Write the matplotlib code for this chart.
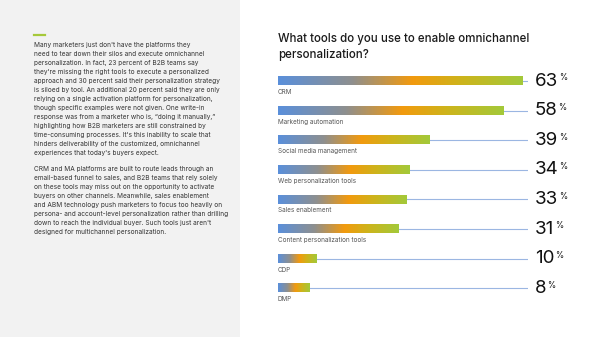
import matplotlib.pyplot as plt
import numpy as np
from matplotlib.colors import LinearSegmentedColormap

plt.rcParams['font.family'] = ['Inter', 'DejaVu Sans']

tools = ["CRM", "Marketing automation", "Social media management",
         "Web personalization tools", "Sales enablement",
         "Content personalization tools", "CDP", "DMP"]
shares = [63, 58, 39, 34, 33, 31, 10, 8]

title = "What tools do you use to enable omnichannel\npersonalization?"

para1 = ("Many marketers just don't have the platforms they\n"
         "need to tear down their silos and execute omnichannel\n"
         "personalization. In fact, 23 percent of B2B teams say\n"
         "they're missing the right tools to execute a personalized\n"
         "approach and 30 percent said their personalization strategy\n"
         "is siloed by tool. An additional 20 percent said they are only\n"
         "relying on a single activation platform for personalization,\n"
         "though specific examples were not given. One write-in\n"
         "response was from a marketer who is, \u201cdoing it manually,\u201d\n"
         "highlighting how B2B marketers are still constrained by\n"
         "time-consuming processes. It's this inability to scale that\n"
         "hinders deliverability of the customized, omnichannel\n"
         "experiences that today's buyers expect.")
para2 = ("CRM and MA platforms are built to route leads through an\n"
         "email-based funnel to sales, and B2B teams that rely solely\n"
         "on these tools may miss out on the opportunity to activate\n"
         "buyers on other channels. Meanwhile, sales enablement\n"
         "and ABM technology push marketers to focus too heavily on\n"
         "persona- and account-level personalization rather than drilling\n"
         "down to reach the individual buyer. Such tools just aren't\n"
         "designed for multichannel personalization.")

W, H = 600, 337
fig = plt.figure(figsize=(6, 3.37), dpi=100)
fig.patch.set_facecolor('white')

# left grey panel
bg = fig.add_axes([0, 0, 240 / W, 1])
bg.set_facecolor('#f2f2f2')
bg.set_xticks([]); bg.set_yticks([])
for s in bg.spines.values():
    s.set_visible(False)

fig.add_artist(plt.Line2D([34 / W, 45 / W], [1 - 35 / H, 1 - 35 / H],
                          color='#a6c93a', lw=1.6))
fig.text(34 / W, 1 - 42 / H, para1, fontsize=4.7, color='#333333',
         va='top', ha='left', linespacing=1.6)
fig.text(34 / W, 1 - 166 / H, para2, fontsize=4.7, color='#333333',
         va='top', ha='left', linespacing=1.6)

fig.text(278 / W, 1 - 33 / H, title, fontsize=8.3, color='#1a1a1a',
         va='top', ha='left', weight='medium', linespacing=1.4)

# bar axes
x0, x1 = 278, 528
y_top, y_bot = 66.2, 303
ax = fig.add_axes([x0 / W, 1 - y_bot / H, (x1 - x0) / W, (y_bot - y_top) / H])
px_per = 3.88
xmax = (x1 - x0) / px_per
ax.axis('off')

cmap = LinearSegmentedColormap.from_list(
    'g', [(0, '#5a8fdb'), (0.3, '#8e8f8f'), (0.55, '#f29a0e'),
          (0.75, '#cdb41c'), (1, '#a3c93a')])
grad = np.linspace(0, 1, 256).reshape(1, -1)
bh = 0.28
for i, (name, v) in enumerate(zip(tools, shares)):
    ax.plot([v, xmax], [i, i], color='#9bb6e2', lw=0.8, zorder=1)
    ax.imshow(grad, cmap=cmap, aspect='auto', extent=[0, v, i + bh / 2, i - bh / 2],
              zorder=2, interpolation='bilinear')
    ax.text(0, i + 0.37, name, fontsize=4.6, color='#555555', va='center', ha='left')
ax.set_xlim(0, xmax)
ax.set_ylim(len(tools) - 0.5, -0.5)

fig.canvas.draw()
r = fig.canvas.get_renderer()
for i, v in enumerate(shares):
    t = ax.annotate(str(v), xy=(xmax, i), xytext=(7, 0), textcoords='offset pixels',
                    fontsize=13.5, color='#111111', va='center', ha='left')
    bb = t.get_window_extent(r)
    fig.text((bb.x1 + 0.5) / W, (bb.y1 - 1) / H, '%', fontsize=6, color='#111111',
             va='top', ha='left')

fig.savefig('out.png', dpi=100)
